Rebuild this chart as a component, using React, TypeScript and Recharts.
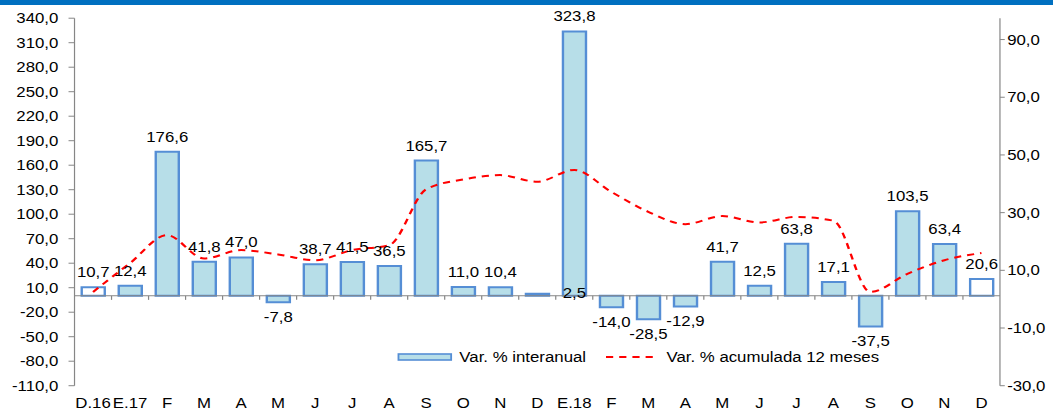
import React from "react";
import { ComposedChart, Bar, Line, XAxis, YAxis, ReferenceLine, LabelList, Legend, Cell } from "recharts";

const months = ["D.16", "E.17", "F", "M", "A", "M", "J", "J", "A", "S", "O", "N", "D", "E.18", "F", "M", "A", "M", "J", "J", "A", "S", "O", "N", "D"];
const interanual = [10.7, 12.4, 176.6, 41.8, 47.0, -7.8, 38.7, 41.5, 36.5, 165.7, 11.0, 10.4, 2.5, 323.8, -14.0, -28.5, -12.9, 41.7, 12.5, 63.8, 17.1, -37.5, 103.5, 63.4, 20.6];
const acumulada = [2.5, 12.5, 22.2, 14.1, 17.0, 15.5, 13.5, 17.0, 18.7, 38.1, 41.5, 43.0, 40.7, 44.8, 37.2, 30.3, 26.0, 28.8, 26.6, 28.5, 27.2, 2.5, 8.8, 13.5, 16.0];
const leftTicks = [-110, -80, -50, -20, 10, 40, 70, 100, 130, 160, 190, 220, 250, 280, 310, 340];
const rightTicks = [-30, -10, 10, 30, 50, 70, 90];

const rows = months.map((m, i) => ({ month: m, inter: interanual[i], acum: acumulada[i] }));

// the original is stretched sideways, so draw narrower and scale in x
const SX = 1.2;
const W = 1053 / SX;
const H = 410;
const LEFT_W = 62.1;
const RIGHT_W = 44.2;
const FONT = "'Liberation Sans', Arial, sans-serif";
const AXIS = "#868686";
const BAR_FILL = "#B7DEE8";
const BAR_LINE = "#558ED5";

const fmt = (v: number) => v.toFixed(1).replace(".", ",");

const ZeroAxis = (p: any) => {
  const { x1, x2, y1 } = p;
  const step = (x2 - x1) / months.length;
  return (
    <g>
      <line x1={x1} x2={x2} y1={y1} y2={y1} stroke={AXIS} strokeWidth={1} />
      {months.slice(1).map((_, i) => (
        <line key={i} x1={x1 + step * (i + 1)} x2={x1 + step * (i + 1)} y1={y1} y2={y1 + 4} stroke={AXIS} strokeWidth={1} />
      ))}
    </g>
  );
};

const BarLabel = (p: any) => {
  const { x, y, width, height, value, index } = p;
  const v = Number(value);
  let cx = x + width / 2;
  let ty: number;
  if (index === 12) {
    // this small label sits on the next bar's foot in the original
    cx += (W - LEFT_W - RIGHT_W) / months.length;
    ty = Math.max(y, y + height) + 2;
  } else if (v >= 0) {
    ty = Math.min(y, y + height) - 10;
  } else {
    ty = Math.max(y, y + height) + 20;
  }
  return (
    <text x={cx} y={ty} textAnchor="middle" fontSize={14} fontFamily={FONT} fill="#000">
      {fmt(v)}
    </text>
  );
};

const LegendBox = (props: any) => {
  const payload = [...(props.payload || [])].sort((a: any, b: any) => (a.type === "line" ? 1 : 0) - (b.type === "line" ? 1 : 0));
  return (
    <div style={{ display: "flex", alignItems: "center", fontFamily: FONT, fontSize: 14, color: "#000", whiteSpace: "nowrap" }}>
      {payload.map((e: any, i: number) => (
        <div key={i} style={{ display: "flex", alignItems: "center", marginRight: 17 }}>
          {e.type === "line" ? (
            <svg width={44} height={8}>
              <line x1={0} y1={4} x2={44} y2={4} stroke="#FF0000" strokeWidth={2} strokeDasharray="6 5" />
            </svg>
          ) : (
            <svg width={46} height={8}>
              <rect x={1} y={1} width={44} height={6} fill={BAR_FILL} stroke={BAR_LINE} strokeWidth={1.6} />
            </svg>
          )}
          <span style={{ marginLeft: 6 }}>{e.value}</span>
        </div>
      ))}
    </div>
  );
};

export default function App() {
  return (
    <div style={{ position: "fixed", left: 0, top: 0, width: 1053, height: H, overflow: "hidden", background: "#fff" }}>
      <div style={{ width: W, height: H, transform: `scaleX(${SX})`, transformOrigin: "0 0" }}>
        <ComposedChart width={W} height={H} data={rows} margin={{ top: 18.2, right: 0, bottom: 0, left: 0 }}>
          <XAxis
            dataKey="month"
            interval={0}
            axisLine={false}
            tickLine={false}
            tickSize={0}
            tickMargin={12}
            height={24.3}
            tick={{ fill: "#000", fontSize: 14, fontFamily: FONT }}
          />
          <YAxis
            yAxisId="left"
            orientation="left"
            width={LEFT_W}
            domain={[-110, 340]}
            ticks={leftTicks}
            interval={0}
            tickFormatter={fmt}
            stroke={AXIS}
            tickSize={5}
            tickMargin={8.5}
            tick={{ fill: "#000", fontSize: 14, fontFamily: FONT }}
            allowDataOverflow
          />
          <YAxis
            yAxisId="right"
            orientation="right"
            width={RIGHT_W}
            domain={[-30, 97.4]}
            ticks={rightTicks}
            interval={0}
            tickFormatter={fmt}
            stroke={AXIS}
            tickSize={4}
            tickMargin={2}
            tick={{ fill: "#000", fontSize: 14, fontFamily: FONT }}
            allowDataOverflow
          />
          <ReferenceLine yAxisId="left" y={0} shape={ZeroAxis} />
          <Bar
            yAxisId="left"
            dataKey="inter"
            name="Var. % interanual"
            barSize={19.2}
            fill={BAR_FILL}
            stroke={BAR_LINE}
            strokeWidth={2}
            isAnimationActive={false}
          >
            {rows.map((_, i) => (
              <Cell key={i} fill={i === 0 || i === rows.length - 1 ? "#FFFFFF" : BAR_FILL} />
            ))}
            <LabelList dataKey="inter" content={BarLabel} />
          </Bar>
          <Line
            yAxisId="right"
            dataKey="acum"
            name="Var. % acumulada 12 meses"
            type="monotone"
            stroke="#FF0000"
            strokeWidth={2}
            strokeDasharray="6 5"
            dot={false}
            activeDot={false}
            isAnimationActive={false}
          />
          <Legend
            layout="vertical"
            align="center"
            verticalAlign="middle"
            content={LegendBox}
            wrapperStyle={{ position: "absolute", left: 330.8, top: 349, width: "auto", height: "auto" }}
          />
        </ComposedChart>
      </div>
      <div style={{ position: "absolute", left: 0, top: 0, width: 1053, height: 5, background: "#0070C0" }} />
    </div>
  );
}
